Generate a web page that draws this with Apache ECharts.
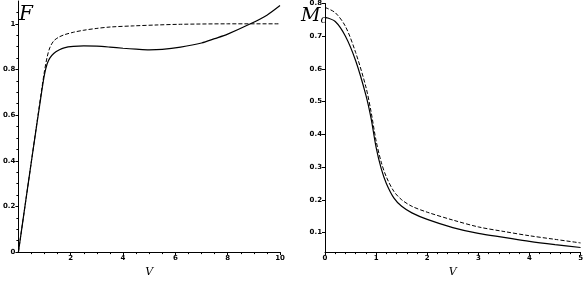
<!DOCTYPE html>
<html><head><meta charset="utf-8">
<script src="https://cdn.jsdelivr.net/npm/echarts@6/dist/echarts.min.js"></script>
<style>html,body{margin:0;padding:0;background:#fff}#c{width:586px;height:283px}</style>
</head><body><div id="c"></div>
<script>
// Left panel: F vs V
const fDashV = [0, 0.5, 0.9, 1.0, 1.1, 1.2, 1.35, 1.55, 1.75, 2.1, 2.5, 3, 3.5, 4.4, 5.3, 6.2, 8, 10];
const fDashY = [0, 0.40, 0.72, 0.795, 0.855, 0.895, 0.925, 0.942, 0.952, 0.963, 0.972, 0.98, 0.986, 0.991, 0.995, 0.998, 1.0, 1.0];
const fSolidV = [0, 0.5, 0.9, 1.0, 1.1, 1.2, 1.35, 1.55, 1.75, 2.1, 2.5, 3, 3.5, 4, 4.5, 5, 5.5, 6.2, 7, 7.5, 8, 8.87, 9.5, 10];
const fSolidY = [0, 0.40, 0.71, 0.78, 0.825, 0.85, 0.87, 0.885, 0.895, 0.901, 0.903, 0.902, 0.898, 0.893, 0.889, 0.886, 0.888, 0.898, 0.916, 0.935, 0.955, 1.0, 1.038, 1.08];
const fYTicks = [0, 0.2, 0.4, 0.6, 0.8, 1];
const fXTicks = [2, 4, 6, 8, 10];
const fYLabels = ['0', '0.2', '0.4', '0.6', '0.8', '1'];

// Right panel: Mc vs V
const mV = [0, 0.2, 0.4, 0.6, 0.8, 0.9, 1.0, 1.1, 1.2, 1.35, 1.5, 1.7, 2, 2.5, 3, 3.5, 4, 4.5, 5];
const mSolid = [0.758, 0.745, 0.70, 0.625, 0.52, 0.45, 0.36, 0.295, 0.25, 0.205, 0.18, 0.16, 0.14, 0.115, 0.097, 0.085, 0.073, 0.063, 0.054];
const mDash = [0.788, 0.772, 0.73, 0.65, 0.545, 0.47, 0.38, 0.315, 0.27, 0.225, 0.2, 0.18, 0.162, 0.138, 0.117, 0.103, 0.09, 0.079, 0.068];
const mYTicks = [0.1, 0.2, 0.3, 0.4, 0.5, 0.6, 0.7, 0.8];
const mXTicks = [0, 1, 2, 3, 4, 5];

const zip = (a, b) => a.map((v, i) => [v, b[i]]);
const lab = {fontFamily: 'DejaVu Sans', fontWeight: 'bold', fontSize: 7, color: '#000'};
const axLine = {show: true, onZero: false, lineStyle: {color: '#000', width: 1}};

const chart = echarts.init(document.getElementById('c'), null, {renderer: 'canvas'});
chart.setOption({
  animation: false,
  backgroundColor: '#fff',
  grid: [
    {left: 14, top: 1, width: 266, height: 261},
    {left: 325, top: 2, width: 258, height: 259}
  ],
  xAxis: [
    {type: 'value', gridIndex: 0, min: 0, max: 10, axisLine: axLine, splitLine: {show: false},
     axisTick: {show: true, length: 3, customValues: fXTicks, lineStyle: {color: '#000'}},
     minorTick: {show: true, splitNumber: 4, length: 2, lineStyle: {color: '#000'}},
     axisLabel: {...lab, margin: 3, customValues: fXTicks, formatter: v => String(v)},
     name: 'V', nameLocation: 'middle', nameGap: 12,
     nameTextStyle: {fontFamily: 'DejaVu Serif', fontStyle: 'italic', fontSize: 11, color: '#000'}},
    {type: 'value', gridIndex: 1, min: 0, max: 5, axisLine: axLine, splitLine: {show: false},
     axisTick: {show: true, length: 3, customValues: mXTicks, lineStyle: {color: '#000'}},
     minorTick: {show: true, splitNumber: 5, length: 2, lineStyle: {color: '#000'}},
     axisLabel: {...lab, margin: 3, customValues: mXTicks, formatter: v => String(v)},
     name: 'V', nameLocation: 'middle', nameGap: 13,
     nameTextStyle: {fontFamily: 'DejaVu Serif', fontStyle: 'italic', fontSize: 11, color: '#000'}}
  ],
  yAxis: [
    {type: 'value', gridIndex: 0, min: 0, max: 1.1, axisLine: axLine, splitLine: {show: false},
     axisTick: {show: true, length: 3, customValues: fYTicks, lineStyle: {color: '#000'}},
     minorTick: {show: true, splitNumber: 4, length: 2, lineStyle: {color: '#000'}},
     axisLabel: {...lab, margin: 3, customValues: fYTicks, formatter: v => fYLabels[fYTicks.indexOf(v)] ?? ''}},
    {type: 'value', gridIndex: 1, min: 0.04, max: 0.8, axisLine: axLine, splitLine: {show: false},
     axisTick: {show: true, length: 3, customValues: mYTicks, lineStyle: {color: '#000'}},
     minorTick: {show: false},
     axisLabel: {...lab, margin: 3, customValues: mYTicks, formatter: v => v.toFixed(1)}}
  ],
  graphic: [
    {type: 'text', left: 19, top: 5, style: {text: 'F', font: 'italic 20px "DejaVu Serif"', fill: '#000'}},
    {type: 'text', left: 301, top: 7, style: {text: '{m|M}{c|c}', rich: {
      m: {font: 'italic 19px "DejaVu Serif"', fill: '#000'},
      c: {font: 'italic 11px "DejaVu Serif"', fill: '#000', verticalAlign: 'bottom', padding: [8, 0, 0, 0]}}}}
  ],
  series: [
    {type: 'line', xAxisIndex: 0, yAxisIndex: 0, data: zip(fDashV, fDashY), smooth: 0.3,
     showSymbol: false, lineStyle: {color: '#000', width: 1, type: [4, 2]}},
    {type: 'line', xAxisIndex: 0, yAxisIndex: 0, data: zip(fSolidV, fSolidY), smooth: 0.3,
     showSymbol: false, lineStyle: {color: '#000', width: 1.2}},
    {type: 'line', xAxisIndex: 1, yAxisIndex: 1, data: zip(mV, mDash), smooth: 0.3,
     showSymbol: false, lineStyle: {color: '#000', width: 1, type: [4, 2]}},
    {type: 'line', xAxisIndex: 1, yAxisIndex: 1, data: zip(mV, mSolid), smooth: 0.3,
     showSymbol: false, lineStyle: {color: '#000', width: 1.2}}
  ]
});
</script></body></html>
